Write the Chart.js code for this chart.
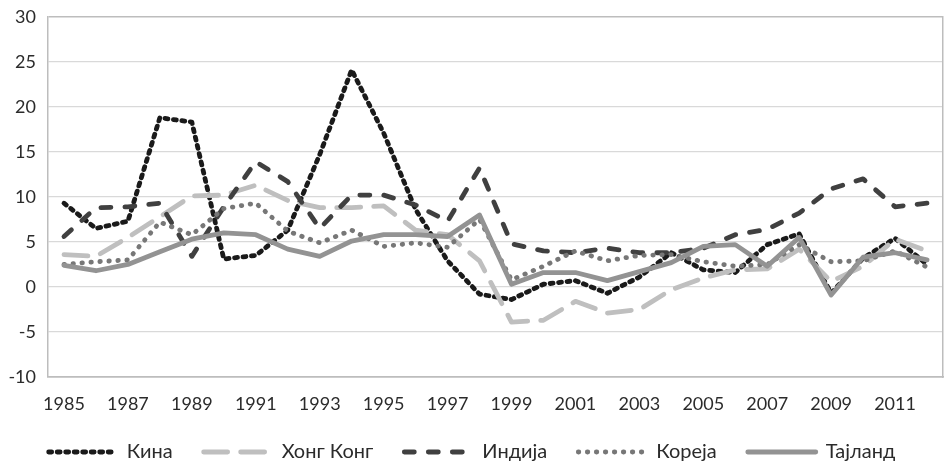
<!DOCTYPE html>
<html>
<head>
<meta charset="utf-8">
<style>
  html, body { margin: 0; padding: 0; background: #fff; }
</style>
</head>
<body>
    <div style="position: relative; width: 944px; height: 462px;">
        <canvas id="myChartInf"></canvas>
    </div>

    <script src="https://cdn.jsdelivr.net/npm/chart.js"></script>

    <script>
        const godine = ['1985','1986','1987','1988','1989','1990','1991','1992','1993','1994',
                        '1995','1996','1997','1998','1999','2000','2001','2002','2003','2004',
                        '2005','2006','2007','2008','2009','2010','2011','2012']

        const kina     = [9.3, 6.5, 7.3, 18.8, 18.3, 3.1, 3.5, 6.3, 14.7, 24.1, 17.1, 8.6, 2.9, -0.8,
                          -1.4, 0.3, 0.7, -0.7, 1.1, 3.8, 1.9, 1.6, 4.7, 5.9, -0.7, 3.2, 5.4, 2.5]
        const hongKong = [3.6, 3.4, 5.5, 7.8, 10.1, 10.2, 11.3, 9.6, 8.8, 8.8, 9.0, 6.3, 5.8, 2.9,
                          -3.9, -3.7, -1.6, -2.9, -2.5, -0.3, 1.0, 1.9, 2.0, 4.2, 0.6, 2.3, 5.3, 4.0]
        const indija   = [5.6, 8.8, 8.9, 9.3, 3.4, 8.9, 13.9, 11.7, 6.5, 10.2, 10.2, 9.1, 7.3, 13.2,
                          4.8, 4.0, 3.8, 4.3, 3.8, 3.8, 4.3, 5.8, 6.4, 8.2, 10.9, 12.0, 8.9, 9.3]
        const koreja   = [2.5, 2.8, 3.0, 7.2, 5.8, 8.7, 9.3, 6.2, 4.9, 6.3, 4.5, 4.9, 4.4, 7.5,
                          0.8, 2.3, 4.0, 2.9, 3.5, 3.6, 2.8, 2.3, 2.5, 4.7, 2.8, 2.9, 4.0, 2.2]
        const tajland  = [2.4, 1.8, 2.5, 3.9, 5.3, 6.0, 5.8, 4.2, 3.4, 5.1, 5.8, 5.8, 5.6, 8.0,
                          0.3, 1.6, 1.6, 0.7, 1.7, 2.7, 4.5, 4.7, 2.3, 5.5, -0.9, 3.3, 3.8, 3.0]

        const yMin = -10, yMax = 30, yKorak = 5

        const linija = (label, data, color, dash, width, order) => ({
            label: label,
            data: data,
            borderColor: color,
            backgroundColor: color,
            borderWidth: width,
            borderDash: dash,
            borderCapStyle: 'round',
            borderJoinStyle: 'round',
            pointRadius: 0,
            tension: 0,
            fill: false,
            order: order
        })

        Chart.defaults.font.family = 'Lato'
        Chart.defaults.color = '#2b2b2b'

        var ctxInf = document.getElementById('myChartInf')

        var myChartInf = new Chart(ctxInf, {
            type: 'line',
            data: {
                labels: godine,
                datasets: [
                    linija('Кина', kina, '#1a1a1a', [3, 5.5], 4.8, 5),
                    linija('Хонг Конг', hongKong, '#bfbfbf', [24, 13], 4.8, 4),
                    linija('Индија', indija, '#404040', [10, 14], 4.8, 3),
                    linija('Кореја', koreja, '#777777', [0.5, 8.5], 4.8, 2),
                    linija('Тајланд', tajland, '#939393', [], 4.8, 1)
                ]
            },
            options: {
                responsive: true,
                maintainAspectRatio: false,
                animation: false,
                layout: {
                    padding: { top: 12, right: 0, bottom: -10, left: 0 }
                },
                plugins: {
                    tooltip: { enabled: false },
                    legend: {
                        position: 'bottom',
                        labels: {
                            usePointStyle: true,
                            pointStyle: 'line',
                            pointStyleWidth: 68,
                            padding: 31,
                            font: { size: 20 },
                            color: '#2b2b2b',
                            sort: (a, b) => a.datasetIndex - b.datasetIndex,
                            generateLabels: (chart) => {
                                const items = Chart.defaults.plugins.legend.labels.generateLabels(chart)
                                items.forEach(it => {
                                    const ds = chart.data.datasets[it.datasetIndex]
                                    it.lineDash = ds.borderDash
                                    it.lineCap = 'round'
                                    it.lineWidth = ds.borderWidth
                                    it.strokeStyle = ds.borderColor
                                    it.fillStyle = ds.borderColor
                                    it.pointStyle = 'line'
                                })
                                return items
                            }
                        }
                    }
                },
                scales: {
                    x: {
                        offset: true,
                        grid: { display: false, drawTicks: false },
                        border: { display: true, color: '#bdbdbd', width: 1.5 },
                        ticks: {
                            autoSkip: false,
                            maxRotation: 0,
                            padding: 16,
                            font: { size: 18 },
                            callback: function (val, i) { return i % 2 === 0 ? this.getLabelForValue(val) : '' }
                        },
                        afterFit: (scale) => { scale.height = 34 }
                    },
                    y: {
                        min: yMin,
                        max: yMax,
                        ticks: { stepSize: yKorak, padding: 6, font: { size: 18 } },
                        grid: {
                            drawTicks: true,
                            tickLength: 6,
                            tickColor: 'rgba(0,0,0,0)',
                            color: (c) => (c.tick && (c.tick.value === yMax || c.tick.value === yMin)) ? '#bdbdbd' : '#d9d9d9',
                            lineWidth: (c) => (c.tick && (c.tick.value === yMax || c.tick.value === yMin)) ? 1.5 : 1.3
                        },
                        border: { display: true, color: '#bdbdbd', width: 1.5 },
                        afterFit: (scale) => { scale.width = 48 }
                    },
                    y2: {
                        position: 'right',
                        min: yMin,
                        max: yMax,
                        ticks: { display: false },
                        grid: { drawOnChartArea: false, drawTicks: false },
                        border: { display: true, color: '#bdbdbd', width: 1.5 },
                        afterFit: (scale) => { scale.width = 1 }
                    }
                }
            }
        })
    </script>
</body>
</html>
